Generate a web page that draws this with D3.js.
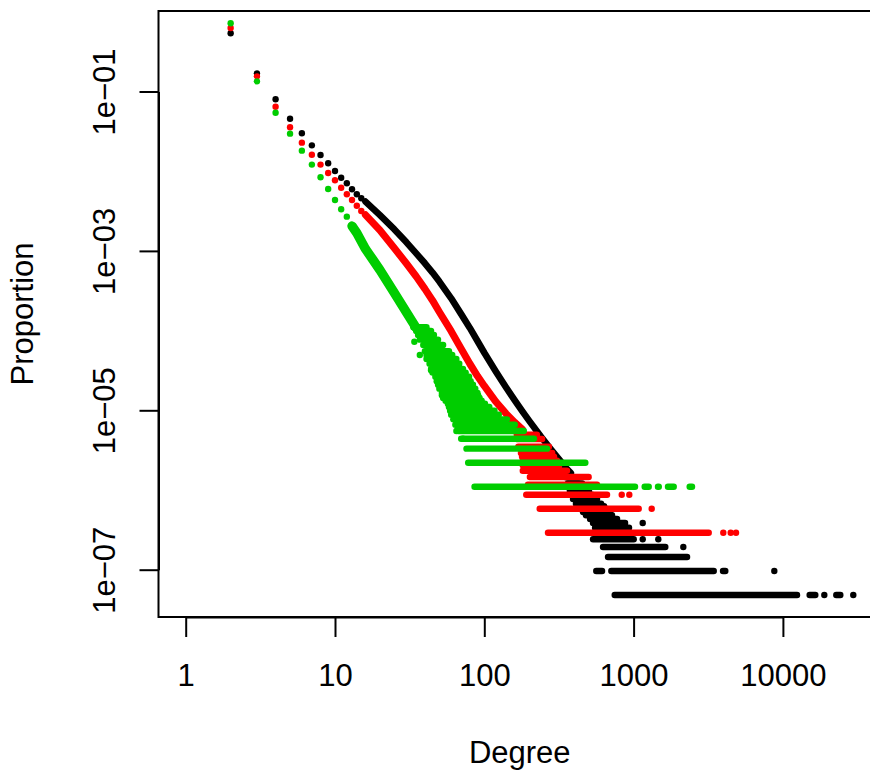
<!DOCTYPE html>
<html>
<head>
<meta charset="utf-8">
<script src="https://cdn.jsdelivr.net/npm/d3@7"></script>
<style>
  body { margin: 0; background: #fff; }
  text { font-family: "Liberation Sans", Arial, sans-serif; font-size: 31px; fill: #000; }
</style>
</head>
<body>
<svg id="chart" width="870" height="772"></svg>
<script>
// ---- data ----
// low degrees are separate points
const degreesLow = [2, 3, 4, 5, 6, 7, 8, 9, 10, 11, 12, 13, 14, 15];
const blackLow = [0.537, 0.169, 0.0798, 0.0456, 0.0299, 0.0211, 0.01596, 0.01256, 0.01005, 0.00828, 0.00705, 0.00593, 0.00513, 0.00457];
const redLow = [0.627, 0.155, 0.0644, 0.0356, 0.0228, 0.0161, 0.0121, 0.00948, 0.00769, 0.00621, 0.00513, 0.00436, 0.00369, 0.00317];
const greenLow = [0.718, 0.134, 0.0542, 0.0296, 0.0181, 0.0121, 0.00838, 0.00598, 0.00436, 0.00333, 0.00269];

// dense part of each distribution (points overlap into a ridge)
const blackRidgeDeg = [16, 20, 25, 30, 35, 40, 45, 50, 60, 70, 80, 90, 100, 120, 140, 160, 180, 200, 240, 280, 320, 350, 380];
const blackRidgeP = [4.16e-3, 2.81e-3, 1.86e-3, 1.29e-3, 9.30e-4, 6.99e-4, 5.34e-4, 4.12e-4, 2.54e-4, 1.61e-4, 1.08e-4, 7.40e-5, 5.27e-5, 3.03e-5, 1.93e-5, 1.33e-5, 9.69e-6, 7.36e-6, 4.65e-6, 3.22e-6, 2.37e-6, 1.92e-6, 1.63e-6];
const redRidgeDeg = [16, 20, 25, 30, 35, 40, 45, 50, 60, 70, 80, 90, 100, 120, 140, 160, 180];
const redRidgeP = [2.83e-3, 1.82e-3, 1.08e-3, 6.99e-4, 4.77e-4, 3.34e-4, 2.39e-4, 1.71e-4, 9.83e-5, 5.93e-5, 3.84e-5, 2.69e-5, 2.02e-5, 1.27e-5, 9.07e-6, 7.03e-6, 5.74e-6];
const greenRidgeDeg = [13, 14, 16, 18, 20, 25, 30, 35];
const greenRidgeP = [2.05e-3, 1.68e-3, 1.06e-3, 7.69e-4, 5.76e-4, 2.96e-4, 1.71e-4, 1.08e-4];

// number of nodes, so proportion = count / total
const blackTotal = 20760000;
const redTotal = 3434000;
const greenTotal = 909000;

// tail: [count, first degree, last degree] of runs of points at the same count
const blackRuns = [
  [30, 353, 431], [25, 363, 452], [22, 370, 473], [20, 375, 503], [18, 386, 535], [16, 393, 569],
  [14, 411, 606], [13, 418, 634], [12, 438, 664], [11, 459, 695], [10, 480, 717], [9, 511, 775],
  [8, 535, 877], [8, 1151, 1151], [7, 552, 932], [6, 535, 932], [5, 535, 1002], [5, 1151, 1151], [5, 1464, 1464],
  [4, 624, 1631], [4, 2153, 2153], [3, 674, 2280], [2, 562, 615], [2, 709, 3441], [2, 3970, 4115], [2, 8758, 8758],
  [1, 747, 12435], [1, 15108, 16485], [1, 18940, 18940], [1, 22783, 24250], [1, 29610, 29610]
];
const redRuns = [
  [17, 165, 225], [15, 165, 244], [12, 169, 271], [10, 176, 285], [9, 179, 293], [8, 181, 307], [7, 181, 317],
  [6, 181, 358], [5, 202, 500], [4, 196, 569], [3, 191, 664], [3, 833, 833], [3, 936, 936],
  [2, 235, 1082], [2, 1322, 1322], [1, 267, 3186], [1, 3988, 3988], [1, 4471, 4471], [1, 4853, 4853]
];
const greenRuns = [
  [100, 33.5, 41], [90, 35, 44], [80, 36, 46], [70, 37, 49], [60, 39, 53], [50, 40, 58], [45, 41, 61], [40, 41, 65],
  [35, 43, 68], [30, 44, 72], [27, 45, 75], [24, 47, 79], [21, 48, 81], [19, 49, 84], [17, 50, 87], [15, 52, 90],
  [14, 52, 91], [13, 53, 93], [12, 55, 96], [11, 57, 101], [10, 58, 108], [9, 59, 117], [8, 60, 125], [7, 62, 142],
  [6, 64, 160], [5, 67, 184], [4, 70, 215], [3, 76, 263], [2, 78, 475],
  [1, 86, 1022], [1, 1186, 1263], [1, 1456, 1474], [1, 1699, 1857], [1, 2375, 2462]
];
// loose points off the edge of the green cloud: [count, degree]
const greenExtra = [[66, 34], [45, 37], [29, 44], [5, 65], [4, 72]];

const xTicks = [1, 10, 100, 1000, 10000];
const xTickLabels = ['1', '10', '100', '1000', '10000'];
const yTicks = [1e-1, 1e-3, 1e-5, 1e-7];
const yTickLabels = ['1e\u221201', '1e\u221203', '1e\u221205', '1e\u221207'];

// ---- drawing ----
const box = { left: 158.5, top: 11, right: 881, bottom: 617 };
const r = 3.2;

const x = d3.scaleLog().domain([1, 10000]).range([185.7, 782.9]);
const y = d3.scaleLog().domain([1e-1, 1e-7]).range([91.5, 569.7]);

const svg = d3.select('#chart');
const plot = svg.append('g');

const series = [
  { color: '#000000', low: blackLow, ridgeDeg: blackRidgeDeg, ridgeP: blackRidgeP, ridgeW: 6.6, total: blackTotal, runs: blackRuns, extra: [] },
  { color: '#FF0000', low: redLow, ridgeDeg: redRidgeDeg, ridgeP: redRidgeP, ridgeW: 7.2, total: redTotal, runs: redRuns, extra: [] },
  { color: '#00CD00', low: greenLow, ridgeDeg: greenRidgeDeg, ridgeP: greenRidgeP, ridgeW: 9.4, total: greenTotal, runs: greenRuns, extra: greenExtra }
];

const line = d3.line().x(d => x(d[0])).y(d => y(d[1]));

series.forEach(s => {
  const g = plot.append('g');

  g.append('path')
    .datum(d3.zip(s.ridgeDeg, s.ridgeP))
    .attr('d', line)
    .attr('fill', 'none')
    .attr('stroke', s.color)
    .attr('stroke-width', s.ridgeW)
    .attr('stroke-linecap', 'round')
    .attr('stroke-linejoin', 'round');

  // runs of points at one count level look like a thick line
  g.selectAll('line.run')
    .data(s.runs.filter(d => d[2] > d[1]))
    .enter().append('line')
    .attr('class', 'run')
    .attr('x1', d => x(d[1]))
    .attr('x2', d => x(d[2]))
    .attr('y1', d => y(d[0] / s.total))
    .attr('y2', d => y(d[0] / s.total))
    .attr('stroke', s.color)
    .attr('stroke-width', r * 2)
    .attr('stroke-linecap', 'round');

  const pts = d3.zip(degreesLow, s.low)
    .concat(s.runs.filter(d => d[2] === d[1]).map(d => [d[1], d[0] / s.total]))
    .concat(s.extra.map(d => [d[1], d[0] / s.total]));

  g.selectAll('circle')
    .data(pts)
    .enter().append('circle')
    .attr('cx', d => x(d[0]))
    .attr('cy', d => y(d[1]))
    .attr('r', r)
    .attr('fill', s.color);
});

// frame
svg.append('rect')
  .attr('x', box.left).attr('y', box.top)
  .attr('width', box.right - box.left).attr('height', box.bottom - box.top)
  .attr('fill', 'none').attr('stroke', '#000').attr('stroke-width', 2);

// x axis
const xAxis = svg.append('g')
  .attr('transform', `translate(0,${box.bottom})`)
  .call(d3.axisBottom(x).tickValues(xTicks).tickSize(20).tickSizeOuter(0).tickPadding(27)
    .tickFormat((d, i) => xTickLabels[i]));
xAxis.select('.domain').attr('stroke-width', 2);
xAxis.selectAll('.tick line').attr('stroke-width', 2);
xAxis.attr('font-size', null).attr('font-family', null);

// y axis, labels turned like R does
const yAxis = svg.append('g')
  .attr('transform', `translate(${box.left},0)`)
  .call(d3.axisLeft(y).tickValues(yTicks).tickSize(19).tickSizeOuter(0)
    .tickFormat((d, i) => yTickLabels[i]));
yAxis.select('.domain').attr('stroke-width', 2);
yAxis.selectAll('.tick line').attr('stroke-width', 2);
yAxis.attr('font-size', null).attr('font-family', null);
yAxis.selectAll('.tick text')
  .attr('x', 0).attr('y', -43.5).attr('dy', null)
  .attr('text-anchor', 'middle')
  .attr('transform', 'rotate(-90)');

// axis titles
svg.append('text')
  .attr('x', (box.left + box.right) / 2).attr('y', 763)
  .attr('text-anchor', 'middle')
  .text('Degree');
svg.append('text')
  .attr('transform', `translate(33,${(box.top + box.bottom) / 2}) rotate(-90)`)
  .attr('text-anchor', 'middle')
  .text('Proportion');
</script>
</body>
</html>
